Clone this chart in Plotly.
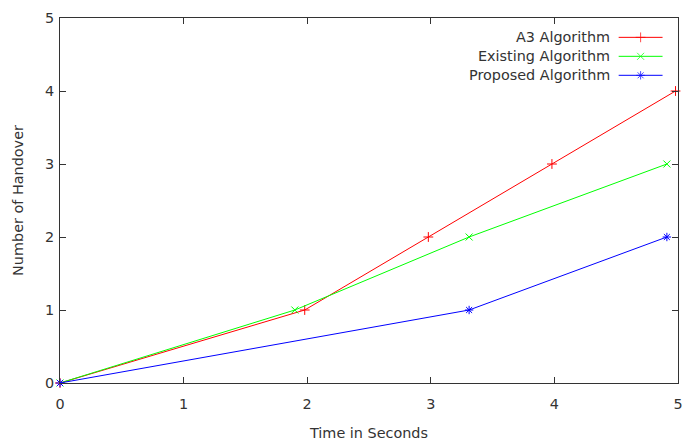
import plotly.graph_objects as go

# Data
a3_x = [0, 1.98, 2.98, 3.98, 4.98]
a3_y = [0, 1, 2, 3, 4]
ex_x = [0, 1.90, 3.31, 4.91]
ex_y = [0, 1, 2, 3]
pr_x = [0, 3.31, 4.91]
pr_y = [0, 1, 2]
names = ["A3 Algorithm", "Existing Algorithm", "Proposed Algorithm"]
colors = ["#ff0000", "#00ff00", "#0000ff"]
symbols = ["cross-thin", "x-thin", "asterisk"]
tick_vals = [0, 1, 2, 3, 4, 5]

font = dict(family="DejaVu Sans", size=14.4, color="#333333")

fig = go.Figure()
for xs, ys, c, s in zip([a3_x, ex_x, pr_x], [a3_y, ex_y, pr_y], colors, symbols):
    fig.add_trace(go.Scatter(
        x=xs, y=ys, mode="lines+markers",
        line=dict(color=c, width=1),
        marker=dict(symbol=s, size=7, color=c, line=dict(color=c, width=1)),
        showlegend=False, cliponaxis=False))

# Manual gnuplot-style legend (text right, sample on the right)
leg_y = [0.947, 0.895, 0.843]
for i, (n, c, s) in enumerate(zip(names, colors, symbols)):
    fig.add_trace(go.Scatter(
        x=[0.904, 0.9395, 0.975], y=[leg_y[i]] * 3, mode="lines+markers",
        xaxis="x2", yaxis="y2",
        line=dict(color=c, width=1),
        marker=dict(symbol=s, size=[0, 7, 0], color=c, line=dict(color=c, width=1)),
        showlegend=False, hoverinfo="skip"))
    fig.add_annotation(x=0.893, y=leg_y[i], xref="x2", yref="y2", text=n,
                       showarrow=False, xanchor="right", yanchor="middle", font=font)

axis_common = dict(showline=True, linecolor="#333333", linewidth=1, mirror="ticks",
                   ticks="inside", ticklen=6, tickcolor="#333333", showgrid=False,
                   zeroline=False, tickfont=font, range=[0, 5], tickvals=tick_vals,
                   automargin=False)
fig.update_layout(
    width=683, height=441,
    margin=dict(l=60, r=5, t=18, b=58),
    paper_bgcolor="white", plot_bgcolor="white",
    xaxis=dict(**axis_common, ticklabelstandoff=8,
               title=dict(text="Time in Seconds", font=font, standoff=17)),
    yaxis=dict(**axis_common, ticklabelstandoff=2,
               title=dict(text="Number of Handover", font=font, standoff=17)),
    xaxis2=dict(overlaying="x", range=[0, 1], visible=False, anchor="y2"),
    yaxis2=dict(overlaying="y", range=[0, 1], visible=False, anchor="x2"),
    showlegend=False,
)
fig.write_html("out.html", config={"displayModeBar": False})

# remove default page margin so the figure sits at the window's top-left
with open("out.html", encoding="utf-8") as f:
    html = f.read()
html = html.replace("<body>", '<body style="margin:0;overflow:hidden">', 1)
with open("out.html", "w", encoding="utf-8") as f:
    f.write(html)
